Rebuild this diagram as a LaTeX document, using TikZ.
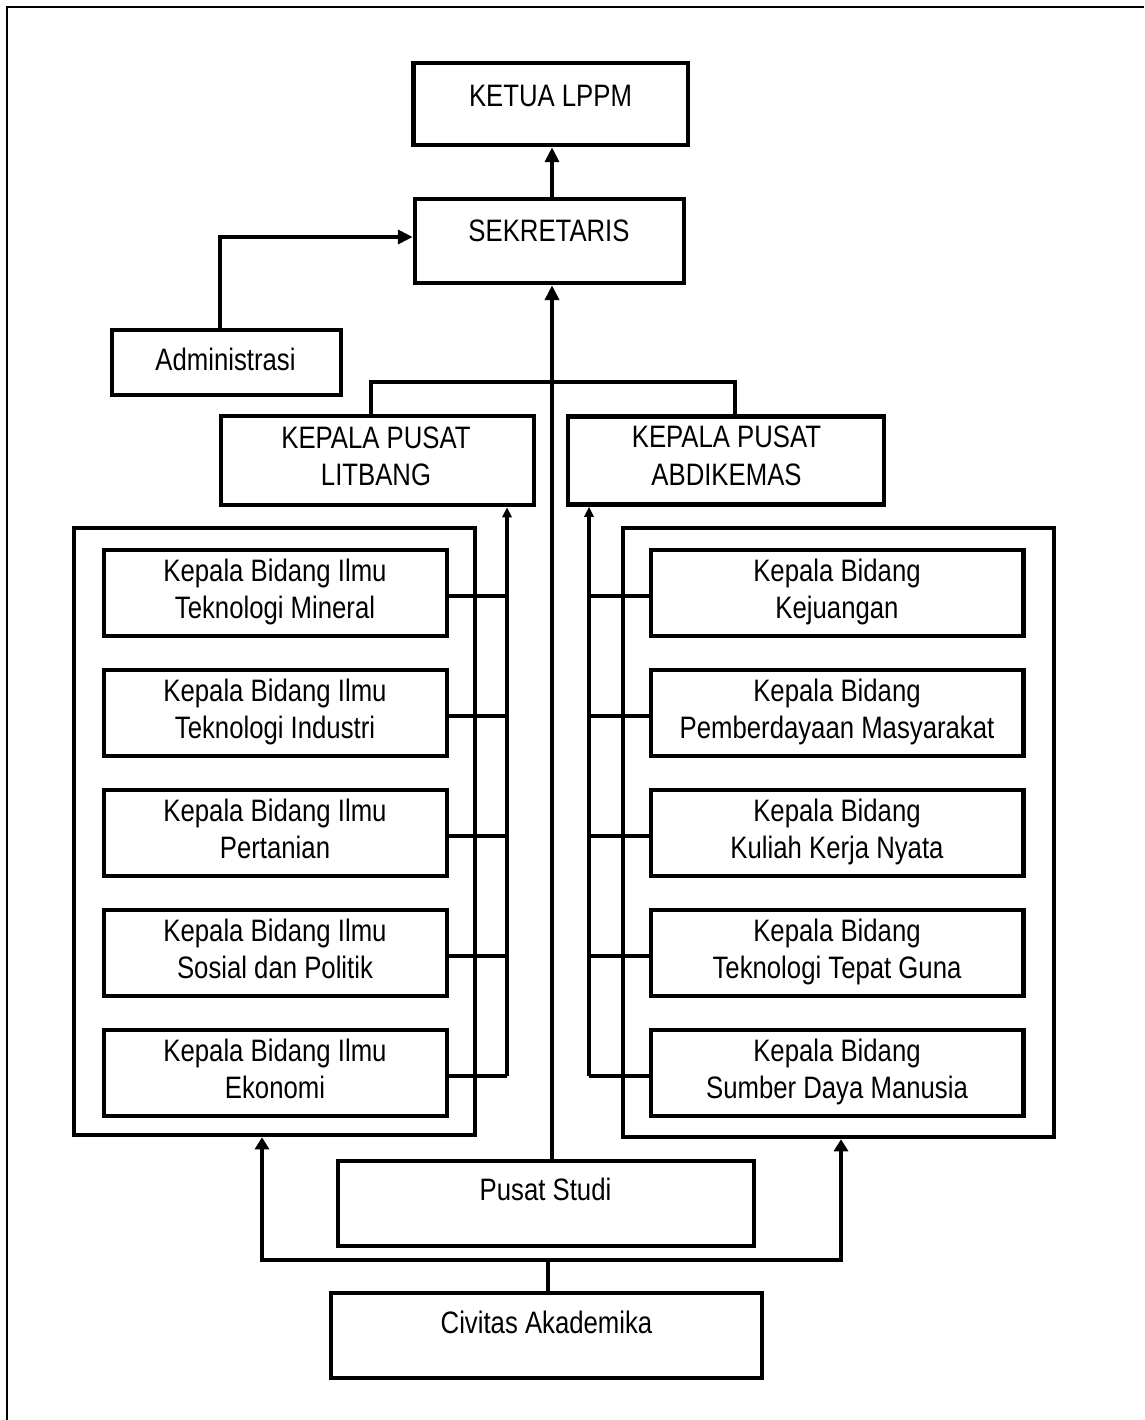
\documentclass[tikz,border=0pt]{standalone}
\usepackage{fontspec}
\setmainfont{Liberation Sans}[FakeStretch=0.83]
\usetikzlibrary{arrows.meta,calc}
\tikzset{
  box/.style={draw, line width=4.5pt, inner sep=0pt, minimum width=#1},
  tx/.style={anchor=base, inner sep=0pt, font=\fontsize{31}{37}\selectfont},
  ln/.style={line width=4.2pt},
  arrL/.style={line width=4.2pt, -{Triangle[length=15pt,width=14pt]}},
  arrS/.style={line width=4.2pt, -{Triangle[length=10pt,width=9pt]}},
  arrM/.style={line width=4.2pt, -{Triangle[length=12pt,width=14pt]}},
}
\begin{document}
\begin{tikzpicture}[x=1pt,y=-1pt]
\useasboundingbox (0,0) rectangle (1144,1420);
% outer frame (only top and left visible)
\draw[line width=2pt] (7,1420) -- (7,7) -- (1144,7);

% main boxes
\node[box=274.5pt, minimum height=82pt] (ketua) at (550.75,104) {};
\node[tx] (tketua) at (550.5,107) {KETUA LPPM};
\node[box=269pt, minimum height=84pt] (sek) at (549.5,241) {};
\node[tx] (tsek) at (549,242) {SEKRETARIS};
\node[box=229pt, minimum height=65pt] (admin) at (226.5,362.5) {};
\node[tx] (tadmin) at (225.5,370) {Administrasi};
\node[box=313pt, minimum height=89pt] (litbang) at (377.5,460.5) {};
\node[tx] (tlit1) at (376,448) {KEPALA PUSAT};
\node[tx] (tlit2) at (376,485) {LITBANG};
\node[box=316pt, minimum height=88pt] (abdi) at (726,460.5) {};
\node[tx] (tabd1) at (726.5,447.5) {KEPALA PUSAT};
\node[tx] (tabd2) at (726.5,485) {ABDIKEMAS};

% group frames
\node[box=401pt, minimum height=607pt] (lframe) at (274.5,831.5) {};
\node[box=431pt, minimum height=609pt] (rframe) at (838.5,832.5) {};

% left inner boxes
\foreach \i/\a/\b in {1/Kepala Bidang Ilmu/Teknologi Mineral,
                      2/Kepala Bidang Ilmu/Teknologi Industri,
                      3/Kepala Bidang Ilmu/Pertanian,
                      4/Kepala Bidang Ilmu/Sosial dan Politik,
                      5/Kepala Bidang Ilmu/Ekonomi}{
  \pgfmathsetmacro\t{548+120*(\i-1)}
  \node[box=343pt, minimum height=86pt] (lb\i) at (275.5,\t+45) {};
  \node[tx] (tlb\i a) at (275,\t+33.5) {\a};
  \node[tx] (tlb\i b) at (275,\t+70) {\b};
}
% right inner boxes
\foreach \i/\a/\b in {1/Kepala Bidang/Kejuangan,
                      2/Kepala Bidang/Pemberdayaan Masyarakat,
                      3/Kepala Bidang/Kuliah Kerja Nyata,
                      4/Kepala Bidang/Teknologi Tepat Guna,
                      5/Kepala Bidang/Sumber Daya Manusia}{
  \pgfmathsetmacro\t{548+120*(\i-1)}
  \node[box=372.5pt, minimum height=86pt] (rb\i) at (837.25,\t+45) {};
  \node[tx] (trb\i a) at (837,\t+33.5) {\a};
  \node[tx] (trb\i b) at (837,\t+70) {\b};
}

% bottom boxes
\node[box=416pt, minimum height=85pt] (pusat) at (546,1203.5) {};
\node[tx] (tpusat) at (545.5,1200) {Pusat Studi};
\node[box=431pt, minimum height=85pt] (civ) at (546.5,1335.5) {};
\node[tx] (tciv) at (546.5,1333) {Civitas Akademika};

% helper coordinates
\coordinate (cx) at (552,0);
\coordinate (ax) at (220,0);
\coordinate (ay) at (0,237);
\coordinate (bl) at (371,0);
\coordinate (br) at (735,0);
\coordinate (by) at (0,382);
\coordinate (lx) at (507,0);
\coordinate (rx) at (589,0);
\coordinate (busy) at (0,1260);
\coordinate (bxl) at (262,0);
\coordinate (bxr) at (841,0);
\coordinate (cxb) at (548,0);

% connectors
\draw[arrL] (sek.north -| cx) -- (ketua.south -| cx);
\draw[arrL] (admin.north -| ax) |- (sek.west |- ay);
\draw[arrL] (pusat.north -| cx) -- (sek.south -| cx);
\draw[ln] (litbang.north -| bl) -- (bl |- by) -- (br |- by) -- (abdi.north -| br);

\draw[arrS] ([yshift=-3pt]lb5.east -| lx) -- (litbang.south -| lx);
\draw[arrS] ([yshift=-3pt]rb5.west -| rx) -- (abdi.south -| rx);
\foreach \i in {1,...,5}{
  \draw[ln] ([yshift=-3pt]lb\i.east) -- ([yshift=-3pt]lb\i.east -| lx);
  \draw[ln] ([yshift=-3pt]rb\i.west) -- ([yshift=-3pt]rb\i.west -| rx);
}

\draw[ln] (civ.north -| cxb) -- (cxb |- busy);
\draw[arrM] (cxb |- busy) -| (lframe.south -| bxl);
\draw[arrM] (cxb |- busy) -| (rframe.south -| bxr);
\end{tikzpicture}
\end{document}
